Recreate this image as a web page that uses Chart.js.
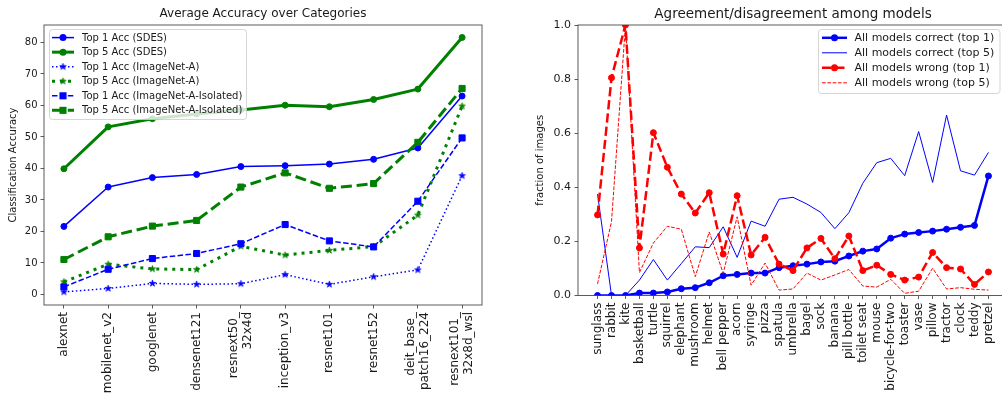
<!DOCTYPE html>
<html>
<head>
<meta charset="utf-8">
<script src="https://cdn.jsdelivr.net/npm/chart.js@4.4.1/dist/chart.umd.min.js"></script>
<style>
  html, body { margin: 0; padding: 0; background: #fff; overflow: hidden; width: 1002px; height: 401px; }
  #accChart { position: absolute; left: 0; top: 0; }
  #agreeChart { position: absolute; left: 500px; top: 0; }
</style>
</head>
<body>
<canvas id="accChart" width="500" height="401"></canvas>
<canvas id="agreeChart" width="520" height="401"></canvas>
<script>
// ---- Average accuracy per model ----
const models = ['alexnet', 'mobilenet_v2', 'googlenet', 'densenet121', ['resnext50_', '32x4d'],
  'inception_v3', 'resnet101', 'resnet152', ['deit_base_', 'patch16_224'], ['resnext101_', '32x8d_wsl']];
const top1Sdes = [21.6, 34.1, 37.1, 38.1, 40.6, 40.9, 41.4, 42.9, 46.5, 63.0];
const top5Sdes = [39.9, 53.2, 55.8, 57.3, 58.6, 60.1, 59.6, 61.9, 65.2, 81.6];
const top1ImgA = [0.8, 1.9, 3.5, 3.2, 3.4, 6.3, 3.2, 5.6, 7.8, 37.7];
const top5ImgA = [4.0, 9.6, 8.1, 7.9, 15.3, 12.5, 14.0, 15.2, 25.2, 59.8];
const top1Iso = [2.4, 8.0, 11.4, 13.0, 16.1, 22.2, 17.0, 15.1, 29.6, 49.7];
const top5Iso = [11.1, 18.3, 21.7, 23.5, 34.1, 38.6, 33.7, 35.2, 48.3, 65.4];
const accTicks = [0, 10, 20, 30, 40, 50, 60, 70, 80];

// ---- Agreement among models per category ----
const categories = ['sunglass', 'rabbit', 'kite', 'basketball', 'turtle', 'squirrel', 'elephant', 'mushroom',
  'helmet', 'bell pepper', 'acorn', 'syringe', 'pizza', 'spatula', 'umbrella', 'bagel', 'sock', 'banana',
  'pill bottle', 'toilet seat', 'mouse', 'bicycle-for-two', 'toaster', 'vase', 'pillow', 'tractor', 'clock',
  'teddy', 'pretzel'];
const correctTop1 = [0.0, 0.0, 0.0, 0.009, 0.009, 0.013, 0.025, 0.029, 0.047, 0.073, 0.078, 0.083, 0.083,
  0.103, 0.110, 0.116, 0.124, 0.127, 0.146, 0.164, 0.172, 0.212, 0.227, 0.233, 0.238, 0.245, 0.252, 0.259, 0.442];
const correctTop5 = [0.375, 0.0, 0.0, 0.057, 0.133, 0.057, 0.118, 0.180, 0.177, 0.254, 0.141, 0.275, 0.256,
  0.356, 0.363, 0.338, 0.307, 0.247, 0.306, 0.415, 0.491, 0.507, 0.443, 0.606, 0.418, 0.667, 0.461, 0.445, 0.529];
const wrongTop1 = [0.298, 0.805, 1.0, 0.176, 0.602, 0.474, 0.375, 0.305, 0.380, 0.153, 0.369, 0.150, 0.215,
  0.116, 0.092, 0.176, 0.211, 0.136, 0.220, 0.092, 0.112, 0.078, 0.057, 0.068, 0.159, 0.103, 0.098, 0.041, 0.087];
const wrongTop5 = [0.043, 0.273, 1.0, 0.085, 0.194, 0.256, 0.245, 0.070, 0.235, 0.082, 0.291, 0.038, 0.120,
  0.020, 0.024, 0.083, 0.057, 0.076, 0.096, 0.035, 0.031, 0.060, 0.008, 0.016, 0.101, 0.024, 0.029, 0.023, 0.020];
const fracTicks = [0, 0.2, 0.4, 0.6, 0.8, 1.0];

const FONT = "'DejaVu Sans', 'Liberation Sans', sans-serif";
const TEXT = '#1a1a1a';
const AXIS = '#333';

// filled five-pointed star used as a marker
function starMarker(color, r) {
  const s = Math.ceil(r * 2 + 2);
  const c = document.createElement('canvas');
  c.width = c.height = s;
  const g = c.getContext('2d');
  g.translate(s / 2, s / 2);
  g.beginPath();
  for (let k = 0; k < 10; k++) {
    const rad = k % 2 === 0 ? r : r * 0.382;
    const a = -Math.PI / 2 + k * Math.PI / 5;
    g.lineTo(rad * Math.cos(a), rad * Math.sin(a));
  }
  g.closePath();
  g.fillStyle = color; g.fill();
  g.lineWidth = 0.8; g.strokeStyle = color; g.stroke();
  return c;
}

const xy = (arr) => arr.map((v, i) => ({ x: i, y: v }));

function series(label, values, color, width, dash, marker, radius) {
  return {
    label, data: xy(values),
    borderColor: color, backgroundColor: color,
    borderWidth: width, borderDash: dash,
    borderJoinStyle: 'round', borderCapStyle: 'butt',
    pointStyle: marker || 'circle',
    pointRadius: marker === false ? 0 : radius,
    pointBorderWidth: 1, pointBorderColor: color, pointBackgroundColor: color,
    tension: 0, fill: false
  };
}

// axes frame plus legend box
const framePlugin = {
  id: 'frameLegend',
  afterDatasetsDraw(chart, args, opts) {
    const { ctx, chartArea: a } = chart;
    ctx.save();
    ctx.strokeStyle = AXIS; ctx.lineWidth = 0.8;
    ctx.strokeRect(a.left, a.top, a.right - a.left, a.bottom - a.top);
    const L = opts;
    if (!L || !L.box) { ctx.restore(); return; }
    const [bx, by, bw, bh] = L.box;
    const r = 3;
    ctx.beginPath();
    ctx.moveTo(bx + r, by);
    ctx.arcTo(bx + bw, by, bx + bw, by + bh, r);
    ctx.arcTo(bx + bw, by + bh, bx, by + bh, r);
    ctx.arcTo(bx, by + bh, bx, by, r);
    ctx.arcTo(bx, by, bx + bw, by, r);
    ctx.closePath();
    ctx.fillStyle = 'rgba(255,255,255,0.8)'; ctx.fill();
    ctx.strokeStyle = 'rgba(204,204,204,0.8)'; ctx.lineWidth = 1; ctx.stroke();
    chart.data.datasets.forEach((ds, i) => {
      const y = L.row0 + i * L.rowStep;
      ctx.save();
      ctx.beginPath();
      ctx.setLineDash(ds.borderDash || []);
      ctx.lineCap = 'butt';
      ctx.strokeStyle = ds.borderColor; ctx.lineWidth = ds.borderWidth;
      ctx.moveTo(L.h0, y); ctx.lineTo(L.h1, y); ctx.stroke();
      ctx.setLineDash([]);
      const mx = (L.h0 + L.h1) / 2;
      if (ds.pointRadius > 0) {
        const st = ds.pointStyle;
        ctx.fillStyle = ds.borderColor;
        if (st instanceof HTMLCanvasElement) {
          ctx.drawImage(st, mx - st.width / 2, y - st.height / 2);
        } else if (st === 'rect') {
          const s = ds.pointRadius * Math.SQRT1_2 + 0.5;
          ctx.fillRect(mx - s, y - s, 2 * s, 2 * s);
        } else {
          ctx.beginPath(); ctx.arc(mx, y, ds.pointRadius + 0.5, 0, Math.PI * 2); ctx.fill();
        }
      }
      ctx.fillStyle = TEXT;
      ctx.font = L.font + 'px ' + FONT;
      ctx.textBaseline = 'middle'; ctx.textAlign = 'left';
      ctx.fillText(ds.label, L.tx, y + 0.5);
      ctx.restore();
    });
    ctx.restore();
  }
};

// vertical category labels under the x scale, multi-line blocks centred on their tick
const verticalLabels = {
  id: 'vLabels',
  afterDraw(chart, args, opts) {
    if (!opts || !opts.labels) return;
    const { ctx } = chart;
    const xs = chart.scales.x;
    const lh = opts.size * 1.2;
    const top = chart.chartArea.bottom + 3.5 + 3.5;
    ctx.save();
    ctx.fillStyle = TEXT;
    ctx.font = opts.size + 'px ' + FONT;
    ctx.textAlign = 'right';
    ctx.textBaseline = 'middle';
    opts.labels.forEach((lab, i) => {
      const lines = Array.isArray(lab) ? lab : [lab];
      const px = xs.getPixelForValue(i);
      lines.forEach((t, k) => {
        const cx = px + (k - (lines.length - 1) / 2) * lh;
        ctx.save();
        ctx.translate(cx, top);
        ctx.rotate(-Math.PI / 2);
        ctx.fillText(t, 0, 0);
        ctx.restore();
      });
    });
    ctx.restore();
  }
};

function axisGrid() {
  return { display: true, drawOnChartArea: false, drawTicks: true, tickLength: 3.5, color: AXIS, lineWidth: 0.8 };
}

// ---------- left chart ----------
new Chart(document.getElementById('accChart'), {
  type: 'line',
  data: {
    datasets: [
      series('Top 1 Acc (SDES)', top1Sdes, 'blue', 1.5, [], 'circle', 3),
      series('Top 5 Acc (SDES)', top5Sdes, 'green', 3, [], 'circle', 3),
      series('Top 1 Acc (ImageNet-A)', top1ImgA, 'blue', 1.5, [1.5, 2.5], starMarker('blue', 3.4), 3),
      series('Top 5 Acc (ImageNet-A)', top5ImgA, 'green', 3, [3, 5], starMarker('green', 3.4), 3),
      series('Top 1 Acc (ImageNet-A-Isolated)', top1Iso, 'blue', 1.5, [5.5, 2.4], 'rect', 4.3),
      series('Top 5 Acc (ImageNet-A-Isolated)', top5Iso, 'green', 3, [11, 4.8], 'rect', 4.3)
    ].map((d, i, all) => Object.assign(d, { order: all.length - i }))
  },
  options: {
    responsive: false, animation: false, events: [],
    layout: { padding: { left: 0, right: 18, top: 0, bottom: 0 } },
    scales: {
      x: {
        type: 'linear', min: -0.45, max: 9.45,
        afterBuildTicks: (s) => { s.ticks = models.map((m, i) => ({ value: i })); },
        afterFit: (s) => { s.height = 96; },
        grid: axisGrid(), border: { display: false },
        ticks: { display: false, autoSkip: false }
      },
      y: {
        type: 'linear', min: -3.35, max: 85.55,
        afterBuildTicks: (s) => { s.ticks = accTicks.map((v) => ({ value: v })); },
        afterFit: (s) => { s.width = 44; },
        grid: axisGrid(), border: { display: false },
        ticks: { padding: 3, color: TEXT, font: { family: FONT, size: 10 }, callback: (v) => String(v) },
        title: { display: true, text: 'Classification Accuracy', color: TEXT,
                 font: { family: FONT, size: 10 }, padding: { top: 7, bottom: 0 } }
      }
    },
    plugins: {
      legend: { display: false }, tooltip: { enabled: false },
      title: { display: true, text: 'Average Accuracy over Categories', fullSize: false, color: TEXT,
               font: { family: FONT, size: 12, weight: 'normal' }, padding: { top: 7, bottom: 3.6 } },
      frameLegend: { box: [49.5, 29.5, 197, 90], row0: 37.6, rowStep: 14.55, h0: 52, h1: 74, tx: 82, font: 10 },
      vLabels: { labels: models, size: 12 }
    }
  },
  plugins: [framePlugin, verticalLabels]
});

// ---------- right chart ----------
new Chart(document.getElementById('agreeChart'), {
  type: 'line',
  data: {
    datasets: [
      series('All models correct (top 1)', correctTop1, 'blue', 2.5, [], 'circle', 3),
      series('All models correct (top 5)', correctTop5, 'blue', 1, [], false, 0),
      series('All models wrong (top 1)', wrongTop1, 'red', 2.5, [9.25, 4], 'circle', 3),
      series('All models wrong (top 5)', wrongTop5, 'red', 1, [3.7, 1.6], false, 0)
    ].map((d, i, all) => Object.assign(d, { order: all.length - i, clip: 0 }))
  },
  options: {
    responsive: false, animation: false, events: [],
    layout: { padding: { left: 0, right: 12, top: 0, bottom: 0 } },
    scales: {
      x: {
        type: 'linear', min: -1.4, max: 29.4,
        afterBuildTicks: (s) => { s.ticks = categories.map((c, i) => ({ value: i })); },
        afterFit: (s) => { s.height = 105.5; },
        grid: axisGrid(), border: { display: false },
        ticks: { display: false, autoSkip: false }
      },
      y: {
        type: 'linear', min: 0, max: 1,
        afterBuildTicks: (s) => { s.ticks = fracTicks.map((v) => ({ value: v })); },
        afterFit: (s) => { s.width = 78; },
        grid: axisGrid(), border: { display: false },
        ticks: { padding: 3.5, color: TEXT, font: { family: FONT, size: 11 }, callback: (v) => v.toFixed(1) },
        title: { display: true, text: 'fraction of images', color: TEXT,
                 font: { family: FONT, size: 10 }, padding: { top: 34, bottom: 0 } }
      }
    },
    plugins: {
      legend: { display: false }, tooltip: { enabled: false },
      title: { display: true, text: 'Agreement/disagreement among models', fullSize: false, color: TEXT,
               font: { family: FONT, size: 13.5, weight: 'normal' }, padding: { top: 6, bottom: 2.8 } },
      frameLegend: { box: [318.5, 29.5, 181.5, 64], row0: 37.8, rowStep: 15, h0: 322, h1: 347, tx: 354.5, font: 11 },
      vLabels: { labels: categories, size: 12 }
    }
  },
  plugins: [framePlugin, verticalLabels]
});
</script>
</body>
</html>
